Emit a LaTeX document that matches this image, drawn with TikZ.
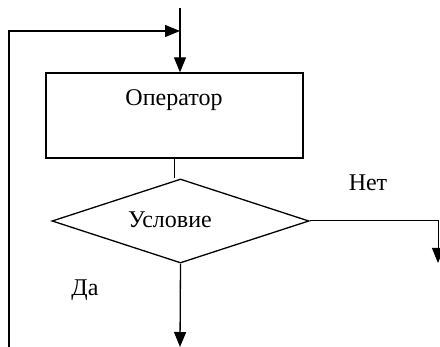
\documentclass[tikz,border=0pt]{standalone}
\usepackage{fontspec}
\setmainfont{Liberation Serif}
\usetikzlibrary{shapes.geometric,arrows.meta}
\begin{document}
\begin{tikzpicture}[x=1pt,y=-1pt,
  line width=1.3pt,
  arr/.style={-{Triangle[length=15pt,width=12pt]}},
  block/.style={draw,rectangle,minimum width=257pt,minimum height=85pt,inner sep=0pt},
  cond/.style={draw,diamond,minimum width=257pt,minimum height=84pt,inner sep=0pt},
  lbl/.style={font=\fontsize{24}{28}\selectfont,inner sep=0pt}]
\useasboundingbox (0,0) rectangle (440,347);
\node[block] (op) at (174.5,115.5) {};
\node[lbl] (optext) at (174,100) {Оператор};
\node[lbl] (cntext) at (170,220) {Условие};
\node[cond] (cn) at (180.5,221) {};
\node[lbl] (net) at (368,183) {Нет};
\node[lbl] (da) at (85,290) {Да};
\coordinate (top) at (180,8);
\coordinate (looptip) at (180,31);
\coordinate (loopbot) at (9,348);
\coordinate (bot) at (180,347);
\coordinate (netend) at (438,263);
\draw[arr] (top) -- (top |- op.north);
\draw[arr] (loopbot) |- (looptip);
\draw (op.south) -- (op.south |- cn.north);
\draw[arr] (cn.south) -- (bot);
\draw[arr,line width=1pt] (cn.east) -| (netend);
\end{tikzpicture}
\end{document}
